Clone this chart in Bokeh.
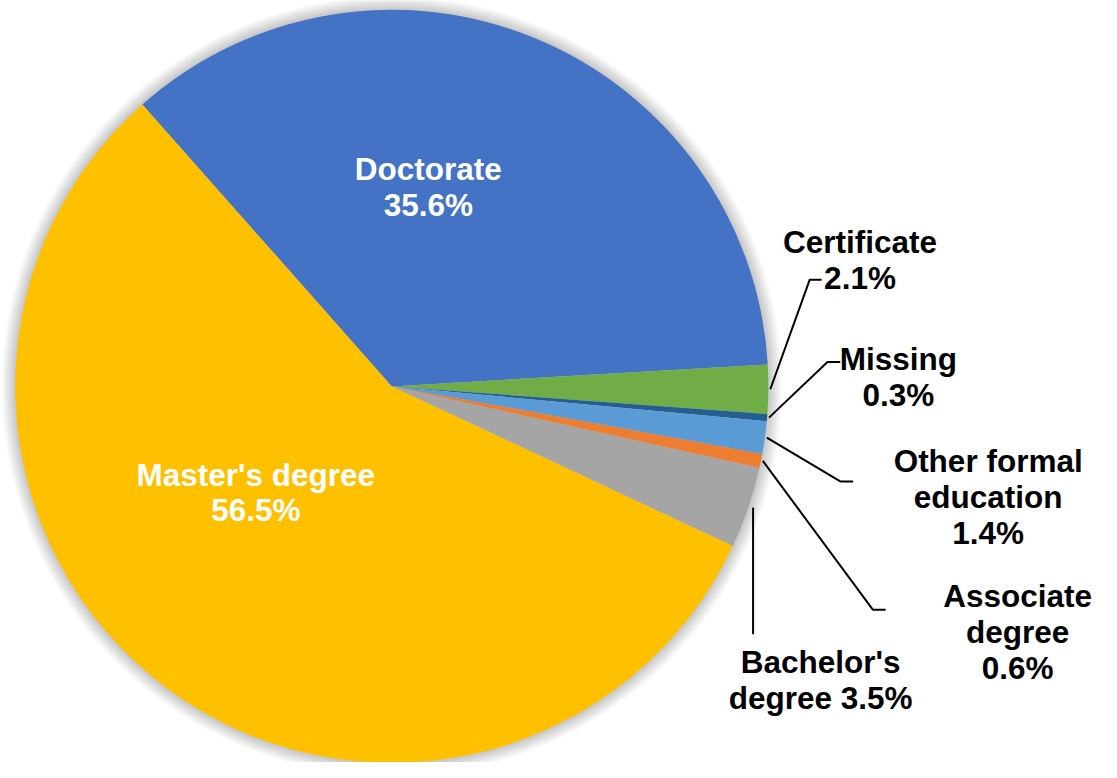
import math
from bokeh.plotting import figure
from bokeh.models import Range1d
from bokeh.embed import file_html
from bokeh.resources import INLINE
from bokeh.core.properties import value

# ---- data ----
categories = ["Doctorate", "Certificate", "Missing", "Other formal education",
              "Associate degree", "Bachelor's degree", "Master's degree"]
shares = [35.6, 2.1, 0.3, 1.4, 0.6, 3.5, 56.5]
colors = ["#4472C4", "#70AD47", "#255E91", "#5B9BD5", "#ED7D31", "#A5A5A5", "#FFC000"]
label_names = ["Doctorate", "Certificate", "Missing", "Other formal\neducation",
               "Associate\ndegree", "Bachelor's\ndegree", "Master's degree"]
label_seps = ["\n", "\n", "\n", "\n", "\n", " ", "\n"]
label_colors = ["white", "black", "black", "black", "black", "black", "white"]

# ---- layout (reference picture coordinates, 1117 x 778) ----
REF_W, REF_H = 1117, 778
CX, CY, R = 397, 394, 382
START = -41.5  # degrees clockwise from 12 o'clock
label_x = [434, 872, 911, 1002, 1032, 832, 259]
label_base = [172, 247, 366, 470, 608, 675, 484]
LINE_STEP = 36.7
leader_elbows = {
    1: [(821, 285), (833, 285)],
    2: [(839, 369), (852, 369)],
    3: [(852, 491), (865, 491)],
    4: [(885, 622), (898, 622)],
}

W, H = 1101, 762
SCALE = W / REF_W
p = figure(width=W, height=H, output_backend="svg", toolbar_location=None,
           x_range=Range1d(0, REF_W), y_range=Range1d(-REF_H, 0),
           x_axis_type=None, y_axis_type=None, min_border=0)
p.grid.visible = False
p.outline_line_color = None
p.background_fill_color = "white"
p.border_fill_color = "white"

# soft outer shadow
n_sh = 14
p.circle(x=[CX] * n_sh, y=[-CY] * n_sh, radius=[R + k for k in range(1, n_sh + 1)],
         fill_color="black", fill_alpha=0.016, line_color=None)

# wedges
starts, ends, mids = [], [], []
cum = 0.0
for s in shares:
    a0 = START + 3.6 * cum
    a1 = START + 3.6 * (cum + s)
    starts.append(math.radians(90 - a0))
    ends.append(math.radians(90 - a1))
    mids.append((a0 + a1) / 2)
    cum += s

p.wedge(x=[CX] * len(shares), y=[-CY] * len(shares), radius=R,
        start_angle=starts, end_angle=ends, direction="clock",
        fill_color=colors, line_color=None)

# leader lines
xs, ys = [], []
RL = R + 2
for i in range(1, 6):
    m = math.radians(mids[i])
    sx = CX + RL * math.sin(m)
    sy = CY - RL * math.cos(m)
    if i in leader_elbows:
        pts = [(sx, sy)] + leader_elbows[i]
    else:
        pts = [(sx + 3, sy), (sx + 3, 647)]
    xs.append([q[0] for q in pts])
    ys.append([-q[1] for q in pts])
p.multi_line(xs=xs, ys=ys, line_color="black", line_width=2)

# labels
tx, ty, tt, tc = [], [], [], []
for i, (nm, sep, sh) in enumerate(zip(label_names, label_seps, shares)):
    lines = f"{nm}{sep}{sh:.1f}%".split("\n")
    for j, ln in enumerate(lines):
        tx.append(label_x[i])
        ty.append(-(label_base[i] + j * LINE_STEP))
        tt.append(ln)
        tc.append(label_colors[i])

p.text(x=tx, y=ty, text=tt, text_color=tc, text_align="center",
       text_baseline="alphabetic", text_font=value("Liberation Sans"),
       text_font_style="bold", text_font_size=f"{32 * SCALE:.1f}px")

open("out.html", "w").write(file_html(p, INLINE))
